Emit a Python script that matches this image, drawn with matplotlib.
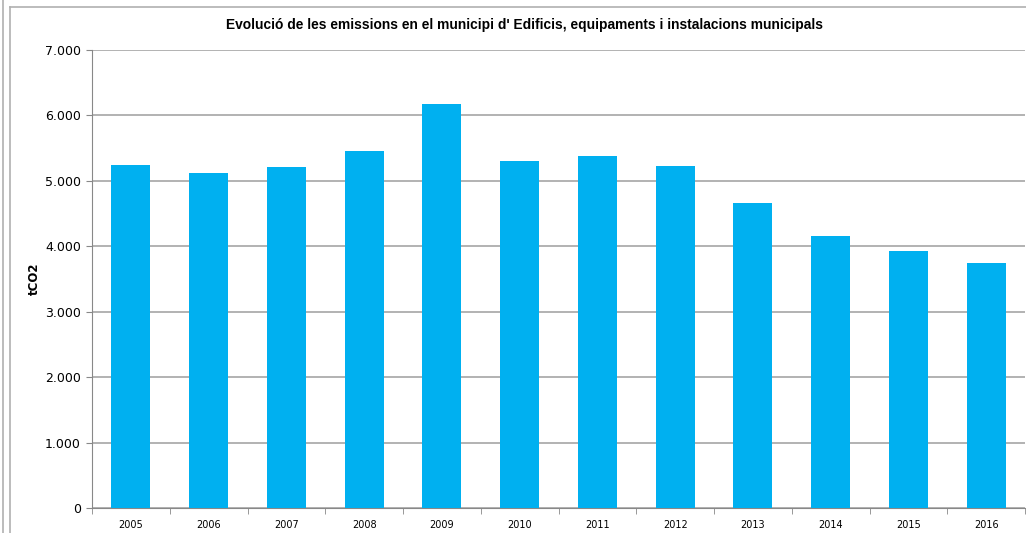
import matplotlib
matplotlib.use('Agg')
import matplotlib.pyplot as plt
from matplotlib.lines import Line2D
from matplotlib.ticker import FuncFormatter
import numpy as np

# Dades
anys = ['2005', '2006', '2007', '2008', '2009', '2010',
        '2011', '2012', '2013', '2014', '2015', '2016']
emissions = [5245, 5120, 5215, 5460, 6180, 5310,
             5380, 5230, 4660, 4160, 3930, 3750]

W, H = 1026, 533
fig = plt.figure(figsize=(W / 100, H / 100), dpi=100)
ax = fig.add_axes([92 / W, 1 - 508 / H, (1025 - 92) / W, (508 - 50) / H])

x = np.arange(len(anys))
ax.bar(x, emissions, width=0.5, color='#00B0F0', zorder=3)

ax.set_xlim(-0.5, len(anys) - 0.5)
ax.set_ylim(0, 7000)
ax.set_yticks(range(0, 7001, 1000))
ax.yaxis.set_major_formatter(FuncFormatter(lambda v, p: f"{int(v):,}".replace(',', '.')))
ax.grid(axis='y', color='#a6a6a6', lw=1.2, zorder=0)

ax.set_xticks(x)
ax.set_xticklabels(anys, fontsize=7)
ax.set_xticks(np.arange(-0.5, len(anys)), minor=True)
ax.tick_params(axis='x', which='major', length=0, pad=9)
ax.tick_params(axis='x', which='minor', length=4, color='#888888', direction='out')
ax.tick_params(axis='y', length=4, color='#888888', labelsize=9, pad=4)

for s in ['top', 'right']:
    ax.spines[s].set_visible(False)
ax.spines['left'].set_color('#888888')
ax.spines['bottom'].set_color('#888888')

ax.set_ylabel('tCO2', fontsize=8.5, fontweight='bold')
ax.yaxis.set_label_coords((41 - 92) / (1025 - 92), 0.5)
fig.text(525 / W, 1 - 25 / H,
         "Evolució de les emissions en el municipi d' Edificis, equipaments i instalacions municipals",
         ha='center', va='center', fontsize=9.9, fontweight='bold', family='Liberation Sans')

# Vores del gràfic
fig.add_artist(Line2D([3 / W, 3 / W], [0, 1], color='#b0b0b0', lw=1.2))
fig.add_artist(Line2D([9.5 / W, 9.5 / W], [0, 1 - 7 / H], color='#b0b0b0', lw=1.2))
fig.add_artist(Line2D([9.5 / W, 1], [1 - 7 / H, 1 - 7 / H], color='#b0b0b0', lw=1.2))

plt.savefig('out.png', dpi=100)
